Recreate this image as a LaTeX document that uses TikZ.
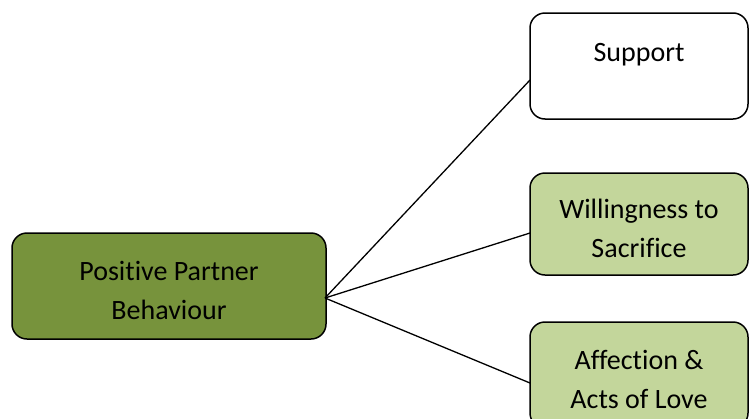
\documentclass[tikz,border=0pt]{standalone}
\usepackage{fontspec}
\setmainfont[Ligatures=NoCommon]{Carlito}
\usepackage{tikz}
\definecolor{olivedark}{HTML}{77933C}
\definecolor{olivelight}{HTML}{C3D69B}
\newcommand{\boxstrut}{\rule{0pt}{29pt}}

\begin{document}
\begin{tikzpicture}[x=1pt, y=-1pt,
  every node/.style={draw=black, line width=1.5pt, rounded corners=15pt, align=center,
    font=\fontsize{28}{39}\selectfont, outer sep=0pt, inner sep=0pt},
  wire/.style={line width=1.3pt}]
\useasboundingbox (0,0) rectangle (754,418);

\node[fill=olivedark, minimum width=314pt, minimum height=106pt] (ppb) at (169,286) {\boxstrut Positive Partner\\Behaviour};

\node[fill=white, minimum width=218pt, minimum height=106pt] (sup) at (639,66) {\boxstrut Support\\\mbox{}};
\node[fill=olivelight, minimum width=218pt, minimum height=102pt] (will) at (639,224) {\boxstrut Willingness to\\Sacrifice};
\node[fill=olivelight, minimum width=218pt, minimum height=106pt] (aff) at (639,375) {\boxstrut Affection \&\\Acts of Love};

\coordinate (hub) at ([xshift=-1pt, yshift=-12pt]ppb.east);
\draw[wire] (hub) -- ([yshift=-14pt]sup.west);
\draw[wire] (hub) -- ([yshift=-9pt]will.west);
\draw[wire] (hub) -- ([yshift=-8pt]aff.west);
\end{tikzpicture}
\end{document}
